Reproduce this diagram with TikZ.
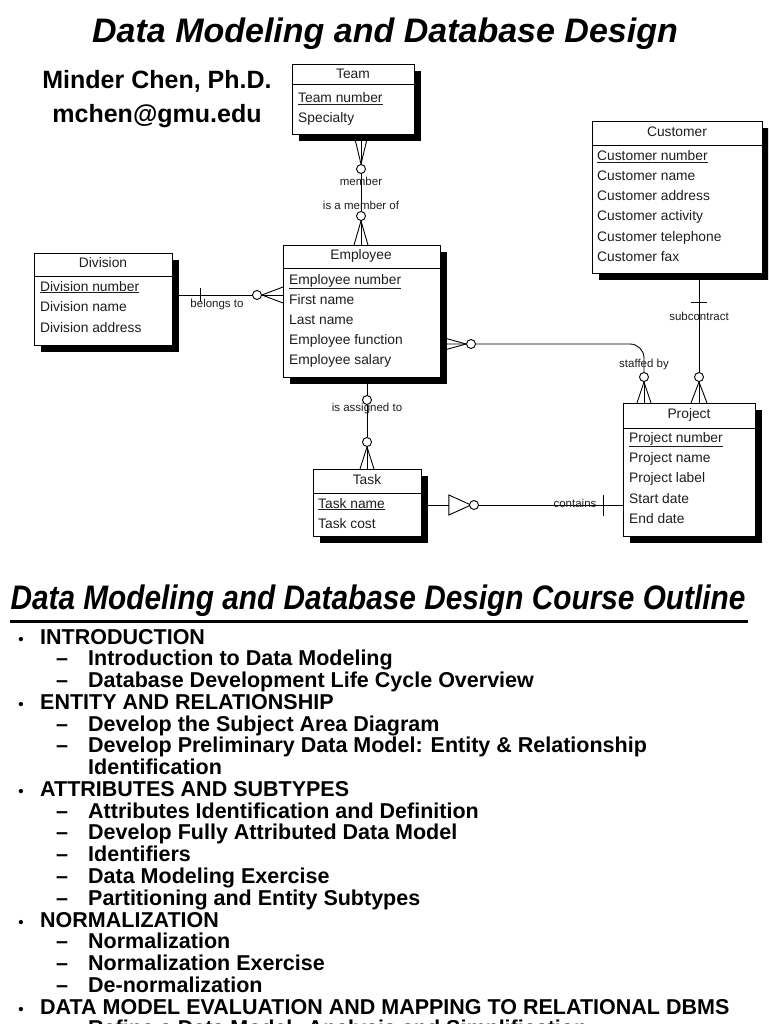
\documentclass[tikz,border=0pt]{standalone}
\usepackage{fontspec}
\setmainfont{Liberation Sans}
\usepackage{graphicx}
\usetikzlibrary{calc,shadows}
\pgfdeclarelayer{bg}
\pgfsetlayers{bg,main}
\definecolor{ink}{RGB}{30,30,30}
\tikzset{
  ent/.style={draw, line width=0.9pt, fill=white, inner sep=0pt, anchor=north west,
    drop shadow={shadow xshift=7pt, shadow yshift=-7pt, opacity=1, fill=black}},
  hdr/.style={font=\fontsize{13.8}{16}\selectfont, text=ink, inner sep=0pt},
  attr/.style={font=\fontsize{13.8}{16}\selectfont, text=ink, anchor=base west, inner sep=0pt},
  rel/.style={font=\fontsize{11.5}{13}\selectfont, text=ink, inner sep=0pt},
  conn/.style={line width=0.9pt},
  opt/.style={draw, fill=white, line width=0.9pt, circle, inner sep=0pt, minimum size=9pt},
  outl/.style={font=\fontsize{21.5}{22}\selectfont\bfseries, anchor=base west, inner sep=0pt},
}
\begin{document}
\begin{tikzpicture}[x=1pt,y=-1pt]
\useasboundingbox (0,0) rectangle (768,1024);
\begin{pgfonlayer}{bg}
\fill[white] (0,0) rectangle (768,1024);
\end{pgfonlayer}
\clip (0,0) rectangle (768,1024);

% titles
\node[font=\fontsize{34}{40}\selectfont\bfseries\itshape, anchor=base, inner sep=0pt] (title) at (385,43) {Data Modeling and Database Design};
\node[font=\fontsize{25}{30}\selectfont\bfseries, anchor=base, inner sep=0pt] (auth) at (157,89) {Minder Chen, Ph.D.};
\node[font=\fontsize{25}{30}\selectfont\bfseries, anchor=base, inner sep=0pt] (mail) at (157,123) {mchen@gmu.edu};

% entities
\node[ent, minimum width=122pt, minimum height=70pt] (team) at (292,64) {};
\draw[conn] ($(team.north west)+(0,20)$) -- ($(team.north east)+(0,20)$);
\node[hdr] (teamh) at (353,74) {Team};
\node[attr] (team1) at (298,103) {\underline{Team number}};
\node[attr] (team2) at (298,123) {Specialty};

\node[ent, minimum width=157pt, minimum height=132pt] (emp) at (283,245) {};
\draw[conn] ($(emp.north west)+(0,23)$) -- ($(emp.north east)+(0,23)$);
\node[hdr] (emph) at (361,256) {Employee};
\node[attr] (emp1) at (289,284) {\underline{Employee number}};
\node[attr] (emp2) at (289,304) {First name};
\node[attr] (emp3) at (289,324) {Last name};
\node[attr] (emp4) at (289,344) {Employee function};
\node[attr] (emp5) at (289,364) {Employee salary};

\node[ent, minimum width=138pt, minimum height=92pt] (div) at (34,253) {};
\draw[conn] ($(div.north west)+(0,23)$) -- ($(div.north east)+(0,23)$);
\node[hdr] (divh) at (103,263) {Division};
\node[attr] (div1) at (40,291) {\underline{Division number}};
\node[attr] (div2) at (40,311) {Division name};
\node[attr] (div3) at (40,332) {Division address};

\node[ent, minimum width=170pt, minimum height=152pt] (cust) at (592,121) {};
\draw[conn] ($(cust.north west)+(0,24)$) -- ($(cust.north east)+(0,24)$);
\node[hdr] (custh) at (677,132) {Customer};
\node[attr] (cust1) at (597,161) {\underline{Customer number}};
\node[attr] (cust2) at (597,181) {Customer name};
\node[attr] (cust3) at (597,201) {Customer address};
\node[attr] (cust4) at (597,221) {Customer activity};
\node[attr] (cust5) at (597,241) {Customer telephone};
\node[attr] (cust6) at (597,261) {Customer fax};

\node[ent, minimum width=132pt, minimum height=133pt] (proj) at (623,403) {};
\draw[conn] ($(proj.north west)+(0,25)$) -- ($(proj.north east)+(0,25)$);
\node[hdr] (projh) at (689,415) {Project};
\node[attr] (proj1) at (629,442) {\underline{Project number}};
\node[attr] (proj2) at (629,462) {Project name};
\node[attr] (proj3) at (629,482) {Project label};
\node[attr] (proj4) at (629,503) {Start date};
\node[attr] (proj5) at (629,523) {End date};

\node[ent, minimum width=108pt, minimum height=67pt] (task) at (313,469) {};
\draw[conn] ($(task.north west)+(0,24)$) -- ($(task.north east)+(0,24)$);
\node[hdr] (taskh) at (367,480) {Task};
\node[attr] (task1) at (318,508) {\underline{Task name}};
\node[attr] (task2) at (318,528) {Task cost};

% optionality circles
\node[opt] (cT) at (361,169) {};
\node[opt] (cE) at (361,216) {};
\node[opt] (cD) at (257,295) {};
\node[opt] (cS1) at (471,344) {};
\node[opt] (cS2) at (644,377) {};
\node[opt] (cC) at (699,377) {};
\node[opt] (cA1) at (367,400) {};
\node[opt] (cA2) at (367,442) {};
\node[opt] (cK) at (474,505) {};

% relationship labels
\node[rel] (lmem) at (361,181) {member};
\node[rel] (lmemof) at (361,205) {is a member of};
\node[rel] (lbel) at (217,305) {belongs to};
\node[rel] (lstaff) at (644,365) {staffed by};
\node[rel] (lsub) at (699,316) {subcontract};
\node[rel] (lass) at (367,409) {is assigned to};
\node[rel] (lcont) at (575,503) {contains};

\begin{pgfonlayer}{bg}
% Team - Employee
\draw[conn] (team.south -| cT) -- (cT) -- (cE) -- (emp.north -| cE);
\draw[conn] ($(team.south -| cT)+(-7,0)$) -- (cT.north) -- ($(team.south -| cT)+(7,0)$);
\draw[conn] ($(emp.north -| cE)+(-7,0)$) -- (cE.south) -- ($(emp.north -| cE)+(7,0)$);
% Division - Employee
\draw[conn] (div.east |- cD) -- (cD) -- (emp.west |- cD);
\draw[conn] ($(div.east |- cD)+(28,-7)$) -- ($(div.east |- cD)+(28,7)$);
\draw[conn] ($(emp.west |- cD)+(0,-8)$) -- (cD.east) -- ($(emp.west |- cD)+(0,8)$);
% Employee - Project (staffed by)
\draw[conn, rounded corners=14pt] (emp.east |- cS1) -- (cS1) -| (cS2);
\draw[conn] (cS2) -- (proj.north -| cS2);
\draw[conn] ($(emp.east |- cS1)+(0,-7)$) -- (cS1.west) -- ($(emp.east |- cS1)+(0,7)$);
\draw[conn] ($(proj.north -| cS2)+(-7,0)$) -- (cS2.south) -- ($(proj.north -| cS2)+(7,0)$);
% Customer - Project
\draw[conn] (cust.south -| cC) -- (cC) -- (proj.north -| cC);
\draw[conn] ($(cust.south -| cC)+(-8,29)$) -- ($(cust.south -| cC)+(8,29)$);
\draw[conn] ($(proj.north -| cC)+(-8,0)$) -- (cC.south) -- ($(proj.north -| cC)+(8,0)$);
% Employee - Task
\draw[conn] (emp.south -| cA1) -- (cA1) -- (cA2) -- (task.north -| cA2);
\draw[conn] ($(task.north -| cA2)+(-7,0)$) -- (cA2.south) -- ($(task.north -| cA2)+(7,0)$);
% Task - Project
\coordinate (tb) at ($(task.east |- cK)+(27,0)$);
\draw[conn] (task.east |- cK) -- (tb);
\draw[conn] ($(tb)+(0,-10)$) -- ($(tb)+(22,0)$) -- ($(tb)+(0,10)$) -- cycle;
\draw[conn] (cK) -- (proj.west |- cK);
\draw[conn] ($(proj.west |- cK)+(-20,-10)$) -- ($(proj.west |- cK)+(-20,11)$);
\end{pgfonlayer}

% course outline
\node[font=\fontsize{34}{40}\selectfont\bfseries\itshape, anchor=base, inner sep=0pt] (title2) at (378,609) {\scalebox{0.876}[1]{Data Modeling and Database Design Course Outline}};
\draw[line width=3pt] (10,621) -- (748,621);

\foreach \lev/\txt [count=\i from 0] in {
  1/INTRODUCTION,
  2/Introduction to Data Modeling,
  2/Database Development Life Cycle Overview,
  1/ENTITY AND RELATIONSHIP,
  2/Develop the Subject Area Diagram,
  2/Develop Preliminary Data Model: Entity \& Relationship,
  3/Identification,
  1/ATTRIBUTES AND SUBTYPES,
  2/Attributes Identification and Definition,
  2/Develop Fully Attributed Data Model,
  2/Identifiers,
  2/Data Modeling Exercise,
  2/Partitioning and Entity Subtypes,
  1/NORMALIZATION,
  2/Normalization,
  2/Normalization Exercise,
  2/De-normalization,
  1/DATA MODEL EVALUATION AND MAPPING TO RELATIONAL DBMS,
  2/Refine a Data Model: Analysis and Simplification}
{
  \pgfmathsetmacro\yb{644+21.77*\i}
  \ifnum\lev=1
    \node[font=\fontsize{15}{16}\selectfont\bfseries, anchor=base, inner sep=0pt] (b\i) at (21,\yb) {•};
    \node[outl] (o\i) at (40,\yb) {\txt};
  \fi
  \ifnum\lev=2
    \node[outl, anchor=base] (b\i) at (62,\yb) {–};
    \node[outl] (o\i) at (88,\yb) {\txt};
  \fi
  \ifnum\lev=3
    \node[outl] (o\i) at (88,\yb) {\txt};
  \fi
}
\end{tikzpicture}
\end{document}
